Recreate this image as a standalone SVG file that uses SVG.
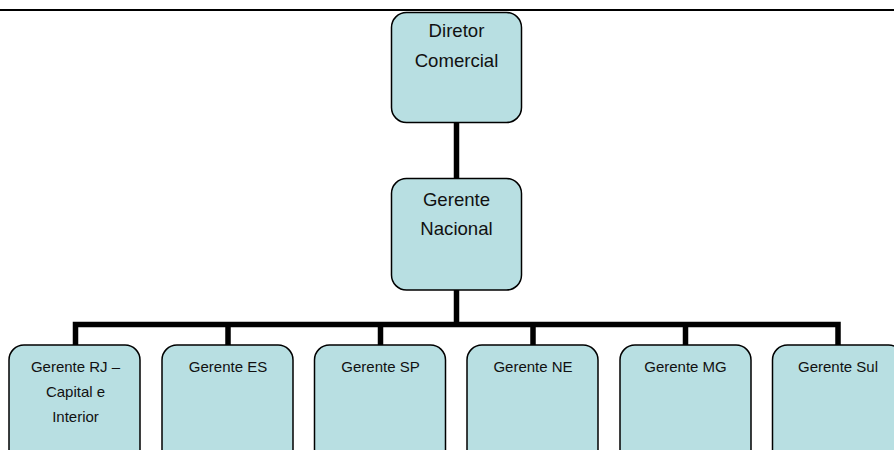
<svg xmlns="http://www.w3.org/2000/svg" width="894" height="450" viewBox="0 0 894 450">
<style>
.box{fill:#B8DFE2;stroke:#000;stroke-width:1.5}
.conn{fill:none;stroke:#000;stroke-width:5.5;stroke-linejoin:miter}
.big{font-family:"Liberation Sans",Arial,sans-serif;font-size:18.6px;fill:#111;text-anchor:middle}
.sm{font-family:"Liberation Sans",Arial,sans-serif;font-size:15px;fill:#111;text-anchor:middle}
</style>
<rect width="894" height="450" fill="#fff"/>
<line x1="0" y1="10" x2="894" y2="10" stroke="#000" stroke-width="2.2"/>
<g id="connectors">
<line class="conn" x1="456.5" y1="122" x2="456.5" y2="179"/>
<line class="conn" x1="456.5" y1="289" x2="456.5" y2="325"/>
<path class="conn" d="M75.5 346 V324.5 H838 V346"/>
<line class="conn" x1="228" y1="324.5" x2="228" y2="346"/>
<line class="conn" x1="380.5" y1="324.5" x2="380.5" y2="346"/>
<line class="conn" x1="533" y1="324.5" x2="533" y2="346"/>
<line class="conn" x1="685.5" y1="324.5" x2="685.5" y2="346"/>
</g>
<g id="diretor">
<rect class="box" x="391.5" y="12.5" width="130" height="110" rx="15"/>
<text class="big" x="456.5" y="37">Diretor</text>
<text class="big" x="456.5" y="67">Comercial</text>
</g>
<g id="nacional">
<rect class="box" x="391.5" y="178.5" width="130" height="111.5" rx="15"/>
<text class="big" x="456.5" y="206">Gerente</text>
<text class="big" x="456.5" y="235">Nacional</text>
</g>
<g id="rj">
<rect class="box" x="9" y="345" width="131" height="120" rx="15"/>
<text class="sm" x="75.5" y="372">Gerente RJ –</text>
<text class="sm" x="75.5" y="397">Capital e</text>
<text class="sm" x="75.5" y="422">Interior</text>
</g>
<g id="es">
<rect class="box" x="162" y="345" width="131" height="120" rx="15"/>
<text class="sm" x="228" y="372">Gerente ES</text>
</g>
<g id="sp">
<rect class="box" x="314.5" y="345" width="131" height="120" rx="15"/>
<text class="sm" x="380.5" y="372">Gerente SP</text>
</g>
<g id="ne">
<rect class="box" x="467" y="345" width="131" height="120" rx="15"/>
<text class="sm" x="533" y="372">Gerente NE</text>
</g>
<g id="mg">
<rect class="box" x="620" y="345" width="131" height="120" rx="15"/>
<text class="sm" x="685.5" y="372">Gerente MG</text>
</g>
<g id="sul">
<rect class="box" x="772.5" y="345" width="131" height="120" rx="15"/>
<text class="sm" x="838" y="372">Gerente Sul</text>
</g>
</svg>
